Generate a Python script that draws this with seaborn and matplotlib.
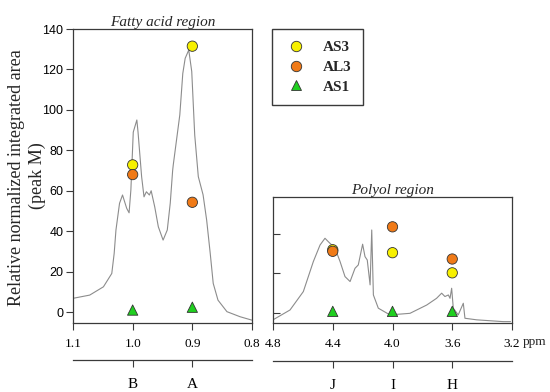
import matplotlib as mpl
mpl.use("Agg")

import matplotlib.pyplot as plt
from matplotlib.lines import Line2D
import seaborn as sns
import pandas as pd

sns.set_style("ticks")
plt.rcParams.update({
    "font.family": "serif",
    "font.serif": ["Liberation Serif", "DejaVu Serif"],
    "axes.edgecolor": "#3a3a3a",
    "axes.linewidth": 0.9,
    "xtick.color": "#3a3a3a",
    "ytick.color": "#3a3a3a",
    "xtick.labelcolor": "black",
    "ytick.labelcolor": "black",
})

# spectrum traces
fatty_ppm = [1.100, 1.072, 1.049, 1.035, 1.031, 1.028, 1.022, 1.017, 1.010, 1.006,
             1.003, 0.999, 0.993, 0.991, 0.985, 0.981, 0.977, 0.972, 0.969, 0.963,
             0.957, 0.949, 0.942, 0.937, 0.933, 0.932, 0.921, 0.916, 0.912, 0.906,
             0.901, 0.896, 0.890, 0.882, 0.876, 0.870, 0.865, 0.857, 0.842, 0.820, 0.800]
fatty_int = [6.8, 8.4, 12.5, 19.1, 29.0, 40.6, 53.8, 57.9, 51.3, 49.1,
             60.4, 89.0, 95.0, 89.0, 67.0, 57.0, 59.5, 57.9, 60.0, 52.0,
             42.2, 35.6, 40.6, 53.9, 70.0, 72.7, 97.5, 118.0, 125.5, 129.6,
             119.0, 87.6, 67.0, 58.0, 45.5, 29.0, 14.2, 5.9, 0.2, -2.3, -4.0]

polyol_ppm = [4.800, 4.686, 4.597, 4.530, 4.485, 4.452, 4.430, 4.385, 4.351, 4.318,
              4.284, 4.251, 4.229, 4.200, 4.184, 4.169, 4.150, 4.139, 4.128, 4.095,
              4.017, 3.883, 3.771, 3.705, 3.671, 3.649, 3.626, 3.615, 3.604, 3.593,
              3.560, 3.526, 3.515, 3.436, 3.260, 3.210]
polyol_int = [-3.5, 1.5, 10.8, 26.0, 34.4, 37.8, 36.1, 32.8, 26.0, 18.4,
              15.9, 22.6, 24.3, 34.8, 28.5, 26.8, 14.2, 42.0, 9.1, 2.4,
              -1.0, -0.2, 4.0, 7.4, 10.0, 8.3, 9.1, 7.4, 12.5, 2.4,
              -1.0, 4.9, -2.7, -3.5, -4.4, -4.4]

# peak markers per sample
samples = ["AS3", "AL3", "AS1"]
fatty_peaks = [1.0, 0.9]
fatty_labels = ["B", "A"]
fatty_AS3 = [72.8, 131.5]
fatty_AL3 = [68.0, 54.3]
fatty_AS1 = [1.0, 2.4]

polyol_peaks = [4.4, 4.0, 3.6]
polyol_labels = ["J", "I", "H"]
polyol_AS3 = [32.0, 30.5, 20.3]
polyol_AL3 = [31.2, 43.6, 27.3]
polyol_AS1 = [0.8, 0.8, 0.8]

palette = {"AS3": "#f7f000", "AL3": "#f07a17", "AS1": "#1fcf1f"}
markers = {"AS3": "o", "AL3": "o", "AS1": "^"}


def peak_frame(ppm, values):
    rows = []
    for name, vals in zip(samples, values):
        for p, v in zip(ppm, vals):
            rows.append({"ppm": p, "value": v, "sample": name})
    return pd.DataFrame(rows)


fatty_df = pd.DataFrame({"ppm": fatty_ppm, "value": fatty_int})
polyol_df = pd.DataFrame({"ppm": polyol_ppm, "value": polyol_int})
fatty_pk = peak_frame(fatty_peaks, [fatty_AS3, fatty_AL3, fatty_AS1])
polyol_pk = peak_frame(polyol_peaks, [polyol_AS3, polyol_AL3, polyol_AS1])

fig = plt.figure(figsize=(5.5, 3.92), dpi=100)
ax1 = fig.add_axes([73 / 550, 69 / 392, 179 / 550, 294 / 392])
ax2 = fig.add_axes([273 / 550, 69 / 392, 239 / 550, 126 / 392])

for ax, spec, pk in [(ax1, fatty_df, fatty_pk), (ax2, polyol_df, polyol_pk)]:
    sns.lineplot(data=spec, x="ppm", y="value", ax=ax, color="#8c8c8c",
                 linewidth=0.8, estimator=None)
    sns.scatterplot(data=pk, x="ppm", y="value", hue="sample", style="sample",
                    palette=palette, markers=markers, s=55, edgecolor="#333333",
                    linewidth=0.6, ax=ax, legend=False, zorder=3)
    ax.set_xlabel("")
    ax.set_ylabel("")
    for s in ["top", "right", "left", "bottom"]:
        ax.spines[s].set_visible(True)

# fatty acid panel
ax1.set_xlim(1.1, 0.8)
ax1.set_ylim(-5.4, 140)
ax1.set_xticks([1.1, 1.0, 0.9, 0.8], labels=["1.1", "1.0", "0.9", "0.8"])
ax1.set_yticks([0, 20, 40, 60, 80, 100, 120, 140])
ax1.tick_params(axis="x", direction="out", length=5, pad=6, labelsize=9.5)
ax1.tick_params(axis="y", direction="out", length=5, pad=2, labelsize=9)
for t in ax1.get_yticklabels():
    t.set_fontfamily("Liberation Sans")
ax1.set_title("Fatty acid region", fontstyle="italic", fontsize=11, pad=2)

# polyol panel
ax2.set_xlim(4.8, 3.2)
ax2.set_ylim(-5.1, 58.7)
ax2.set_xticks([4.8, 4.4, 4.0, 3.6, 3.2], labels=["4.8", "4.4", "4.0", "3.6", "3.2"])
ax2.set_yticks([0, 20, 40], labels=[])
ax2.tick_params(axis="x", direction="out", length=5, pad=6, labelsize=9.5)
ax2.tick_params(axis="y", direction="in", length=5)
ax2.set_title("Polyol region", fontstyle="italic", fontsize=11, pad=2)
ax2.annotate("ppm", xy=(3.2, 0), xycoords=("data", "axes fraction"),
             xytext=(8, -14), textcoords="offset points", ha="left", va="center",
             fontsize=9.5)

# peak letter axes below each panel
for ax, loc, pos, labs in [(ax1, -37 / 294, fatty_peaks, fatty_labels),
                           (ax2, -38 / 126, polyol_peaks, polyol_labels)]:
    sec = ax.secondary_xaxis(loc)
    sec.set_xticks(pos, labels=labs)
    sec.tick_params(direction="out", length=5, pad=8, labelsize=11)
    sec.spines["bottom"].set_color("#3a3a3a")

# y label, two centred lines
fig.text(17 / 550, 1 - 178 / 392, "Relative normalized integrated area",
         rotation=90, ha="center", va="center", fontsize=13)
fig.text(37 / 550, 1 - 176 / 392, "(peak M)",
         rotation=90, ha="center", va="center", fontsize=13)

handles = [Line2D([], [], linestyle="none", marker=markers[n], markersize=7.5,
                  markerfacecolor=palette[n], markeredgecolor="#333333",
                  markeredgewidth=0.6) for n in samples]
fig.legend(handles, samples, loc="upper left", bbox_to_anchor=(272 / 550, 1 - 29 / 392),
           frameon=True, fancybox=False, edgecolor="#3a3a3a", framealpha=1,
           prop={"family": "serif", "weight": "bold", "size": 11},
           handlelength=1.6, handletextpad=1.0, labelspacing=0.4,
           borderpad=0.75, borderaxespad=0)

fig.savefig("out.png", dpi=100)
